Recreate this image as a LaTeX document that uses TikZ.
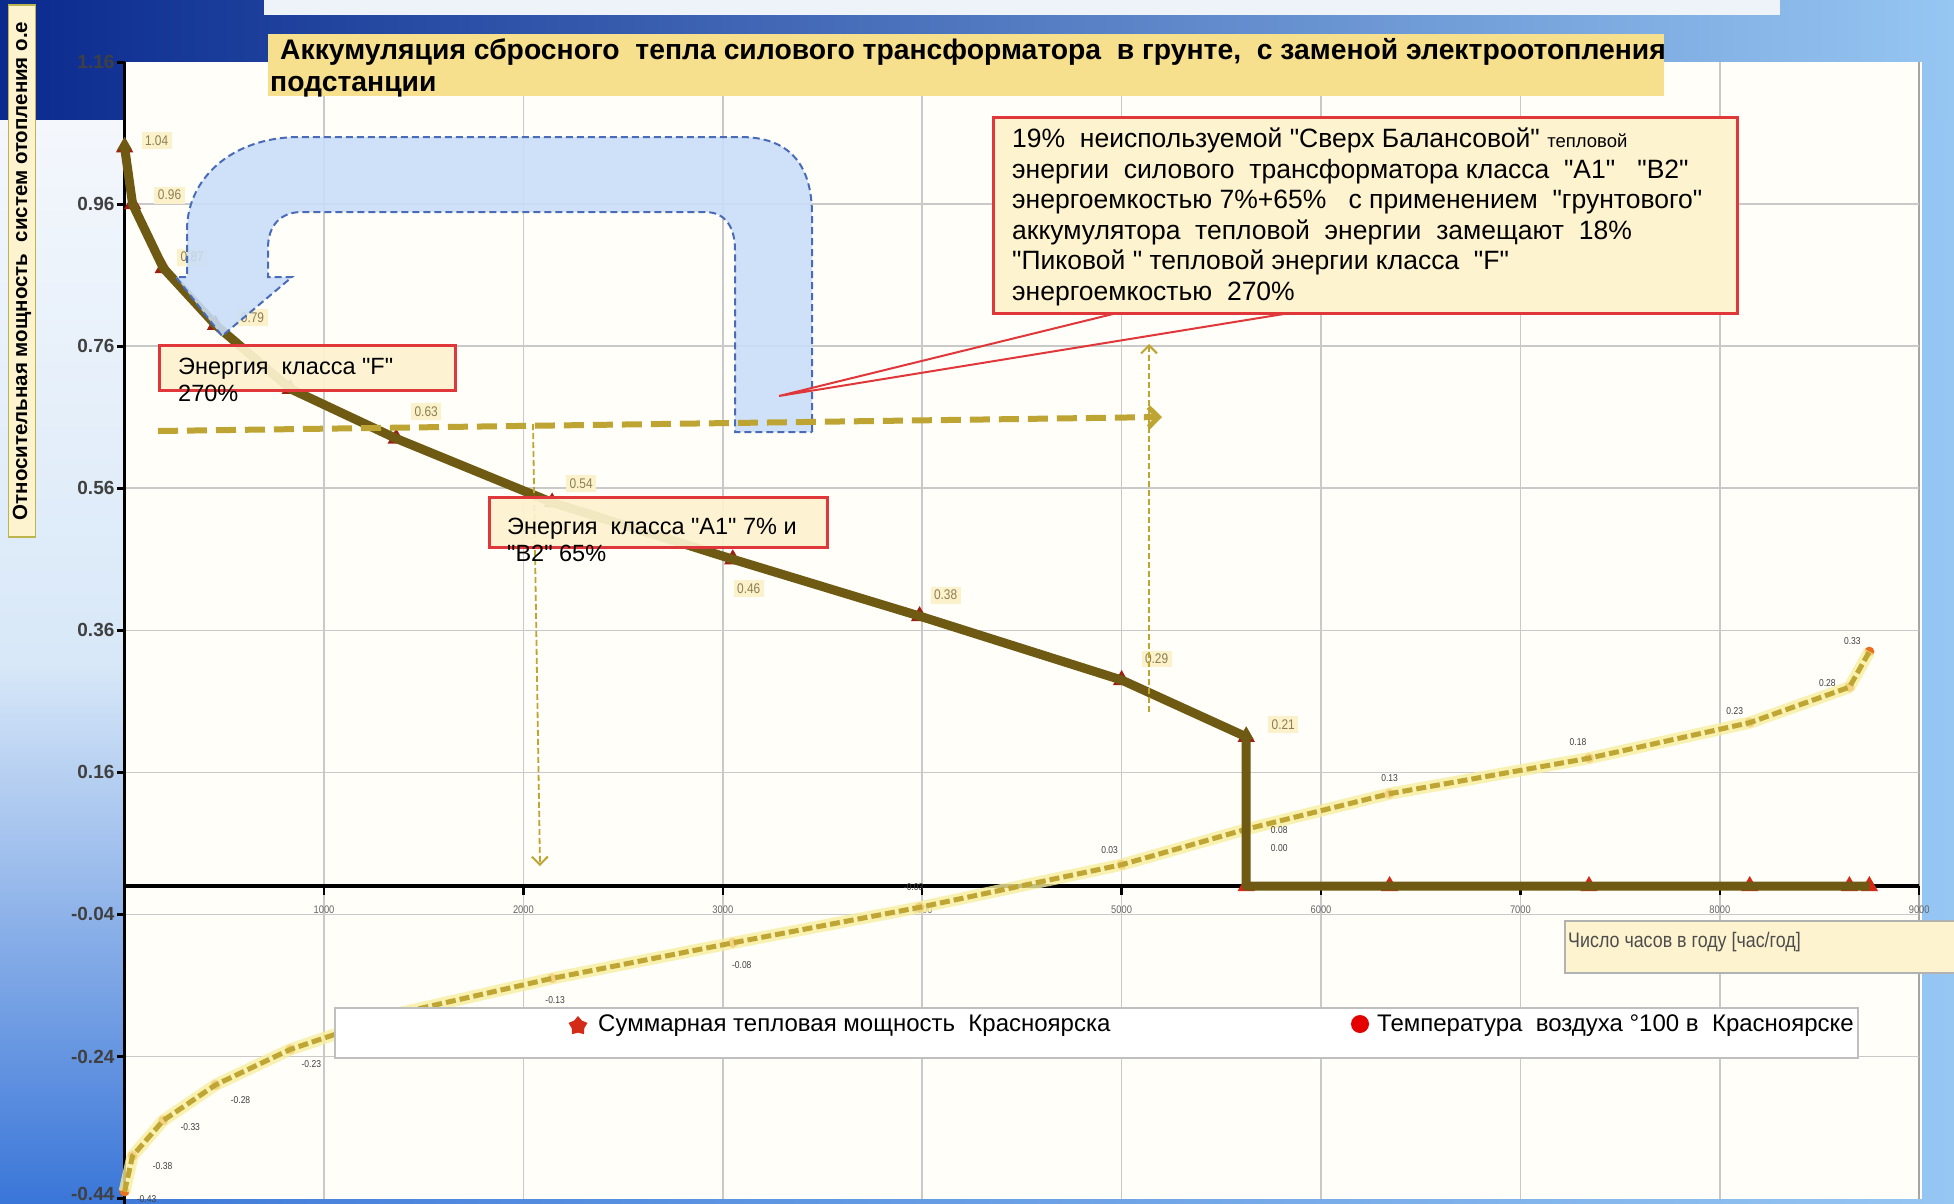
\documentclass[tikz,border=0pt]{standalone}
\usepackage{fontspec}
\setmainfont{Liberation Sans}
\newfontfamily\nar[FakeStretch=0.85]{Liberation Sans}
\usetikzlibrary{shapes.geometric,arrows.meta}
\newcommand\myfs[2]{\fontsize{#1}{#2}\selectfont}
\newcommand\qq{\textquotedbl}
\definecolor{bgdark}{HTML}{0A2A8E}
\definecolor{bglight}{HTML}{96C6F2}
\definecolor{bgmid}{HTML}{3A76D8}
\definecolor{lefttop}{HTML}{F4F7FC}
\definecolor{leftmid}{HTML}{D8E8F8}
\definecolor{stripc}{HTML}{EEF2F9}
\definecolor{panel}{HTML}{FFFEF9}
\definecolor{gridc}{HTML}{C9C9C9}
\definecolor{sone}{HTML}{6E5A12}
\definecolor{mred}{HTML}{D42A18}
\definecolor{tline}{HTML}{BFA534}
\definecolor{thalo}{HTML}{F7EE9E}
\definecolor{tmark}{HTML}{E8701E}
\definecolor{labfill}{HTML}{FBF2CC}
\definecolor{labtext}{HTML}{8E7E52}
\definecolor{boxfill}{HTML}{FDF3CF}
\definecolor{boxred}{HTML}{E0383A}
\definecolor{titlefill}{HTML}{F6E08E}
\definecolor{arrowfill}{HTML}{C9DEF9}
\definecolor{arrowedge}{HTML}{4A6CB8}
\definecolor{ydash}{HTML}{BEA533}
\begin{document}
\begin{tikzpicture}[x=1pt,y=-1pt,
  gridline/.style={draw=gridc,line width=1.6pt},
  sonel/.style={draw=sone,line width=9pt,line join=round},
  tri/.style={regular polygon,regular polygon sides=3,fill=mred,minimum size=20pt,inner sep=0pt},
  tdot/.style={circle,fill=tmark,minimum size=10pt,inner sep=0pt},
  slab/.style={fill=labfill,text=labtext,font=\nar\myfs{14}{14},inner sep=3.5pt},
  tlab/.style={text=black!75,font=\nar\myfs{10}{10},inner sep=1pt},
  ytl/.style={anchor=east,font=\bfseries\myfs{19}{19},text=black!75,inner sep=0pt},
  xtl/.style={font=\nar\myfs{11}{11},text=black!60,inner sep=0pt},
  redbox/.style={draw=boxred,line width=2.5pt,fill=boxfill,fill opacity=0.92,inner sep=0pt},
  boxtext/.style={anchor=north west,align=left,inner sep=0pt,font=\myfs{23.5}{27}},
  thinarrow/.style={draw=ydash,line width=1.8pt,dash pattern=on 6pt off 3pt,-{Straight Barb[length=8pt,width=16pt,line width=2pt]}},
  thickarrow/.style={draw=ydash,line width=6pt,dash pattern=on 20pt off 9pt,-{Straight Barb[length=10pt,width=20pt,line width=5pt]}}
]
\useasboundingbox (0,0) rectangle (1954,1203);
% ---------- background ----------
\fill[left color=bgmid,right color=bglight] (0,0) rectangle (1954,1203);
\fill[left color=bgdark,right color=bglight] (0,0) rectangle (1954,120);
\fill[top color=lefttop,bottom color=bgmid,middle color=leftmid] (0,120) rectangle (124,1203);
\fill[stripc] (264,0) rectangle (1780,15);
\fill[panel] (124.6,62) rectangle (1922,1199);

% ---------- data area ----------
\begin{scope}[shift={(124.6pt,-886pt)},x=199.4pt,y=710.3pt]
  \foreach \h in {1,...,8} \draw[gridline] (\h,-0.44) -- (\h,1.16);
  \draw[draw=black!35,line width=1.6pt] (9,-0.44) -- (9,1.16);
  \foreach \v in {0.96,0.76,0.56,0.36,0.16,-0.04,-0.24} \draw[gridline] (0,\v) -- (9,\v);
  % y axis
  \draw[line width=3.5pt] (0,-0.45) -- (0,1.16);
  \foreach \v/\t/\dy [count=\i] in {1.16/1.16/0,0.96/0.96/0,0.76/0.76/0,0.56/0.56/0,0.36/0.36/0,0.16/0.16/0,-0.04/-0.04/0,-0.24/-0.24/0,-0.44/-0.44/5}{
    \draw[line width=3pt] (0,\v) -- ++(-8pt,0);
    \node[ytl] (yt\i) at ([xshift=-10pt,yshift=\dy pt]0,\v) {\t};
  }
  % x axis
  \draw[line width=4pt] (0,0) -- (9,0);
  \foreach \h in {1,...,9}{
    \draw[line width=2.5pt] (\h,0) -- ++(0,-9pt);
    \node[xtl] (xt\h) at ([yshift=-24pt]\h,0) {\h000};
  }
  % temperature series
  \foreach \h/\v [count=\i] in {0/-0.43,0.040/-0.38,0.194/-0.33,0.456/-0.28,0.831/-0.23,1.362/-0.18,2.144/-0.13,3.050/-0.08,3.987/-0.03,5.000/0.03,5.625/0.08,6.344/0.13,7.344/0.18,8.150/0.23,8.650/0.28,8.750/0.33}
    \node[tdot] (t\i) at (\h,\v) {};
  \draw[draw=thalo,line width=12pt,opacity=0.8,line join=round] (t1.center) \foreach \i in {2,...,16}{ -- (t\i.center)};
  \draw[draw=tline,line width=5pt,dash pattern=on 10pt off 4pt,line join=round] (t1.center) \foreach \i in {2,...,16}{ -- (t\i.center)};
  \foreach \i/\dx/\dy/\t in {1/22/-8/-0.43,2/30/-10/-0.38,3/27/-7/-0.33,4/25/-15/-0.28,5/21/-15/-0.23,7/3/-22/-0.13,8/9/-22/-0.08,9/-6/20/-0.03,10/-12/15/0.03,11/33/-1/0.08,12/0/16/0.13,13/-11/16/0.18,14/-15/12/0.23,15/-22/4/0.28,16/-17/11/0.33}
    \node[tlab] (tl\i) at ([shift={(\dx pt,\dy pt)}]t\i.center) {\t};
  \node[tlab] (zl) at ([shift={(33pt,-19pt)}]t11.center) {0.00};
  % summary power series
  \foreach \h/\v [count=\i] in {0/1.04,0.040/0.96,0.194/0.87,0.456/0.79,0.831/0.70,1.362/0.63,2.144/0.54,3.050/0.46,3.987/0.38,5.000/0.29,5.625/0.21}
    \node[tri,fill=mred!75!black] (s\i) at (\h,\v) {};
  \foreach \h [count=\i] in {5.625,6.344,7.344,8.150,8.650,8.750}
    \node[tri] (z\i) at (\h,0) {};
  \draw[sonel] (s1.center) \foreach \i in {2,...,11}{ -- (s\i.center)} \foreach \i in {1,...,6}{ -- (z\i.center)};
  \node[tri,fill=sone,minimum size=17pt] (s1top) at ([yshift=2pt]s1.center) {};
  \node[tri,fill=sone,minimum size=17pt] (s11top) at ([yshift=2pt]s11.center) {};
  \foreach \i/\dx/\dy/\t in {1/32/7/1.04,2/37/9/0.96,3/29/11/0.87,4/37/7/0.79,6/30/27/0.63,7/29/19/0.54,8/16/-29/0.46,9/26/21/0.38,10/35/21/0.29,11/37/12/0.21}
    \node[slab] (sl\i) at ([shift={(\dx pt,\dy pt)}]s\i.center) {\t};
\end{scope}

% ---------- dashed arrows ----------
\coordinate (va1) at (533,424);
\coordinate (va2) at (540,866);
\draw[thinarrow] (va1) -- (va2);
\coordinate (vb1) at (1149,712);
\coordinate (vb2) at (1149,344);
\draw[thinarrow] (vb1) -- (vb2);

% ---------- blue U-turn arrow ----------
\path[draw=arrowedge,line width=2pt,dash pattern=on 7pt off 4pt,fill=arrowfill,fill opacity=0.88]
  (812,432) -- (812,215) .. controls (812,165) and (790,137) .. (740,137) -- (300,137)
  .. controls (230,137) and (187,180) .. (187,230) -- (187,277) -- (176,277) -- (222,336)
  -- (292,277) -- (268,277) -- (268,248) .. controls (268,226) and (280,212) .. (302,212)
  -- (705,212) .. controls (726,212) and (735,228) .. (735,250) -- (735,432) -- cycle;

\coordinate (ha1) at (158,431);
\coordinate (ha2) at (1162,417);
\draw[thickarrow] (ha1) -- (ha2);

% ---------- callout ----------
\coordinate (ctip) at (779,396);
\coordinate (cb1) at (1113,314);
\coordinate (cb2) at (1296,312);
\draw[draw=boxred,line width=2pt] (cb1) -- (ctip) -- (cb2);

% ---------- boxes ----------
\node[redbox,anchor=north west,minimum width=296pt,minimum height=45pt] (boxF) at (158,344) {};
\node[boxtext] (boxFt) at (178,358) {Энергия \ класса \qq F\qq\\270\%};
\node[redbox,anchor=north west,minimum width=338pt,minimum height=50pt] (boxA) at (488,496) {};
\node[boxtext] (boxAt) at (507,518) {Энергия \ класса \qq А1\qq\ 7\% и\\\qq В2\qq\ 65\%};

\node[redbox,anchor=north west,minimum width=744pt,minimum height=196pt,fill opacity=1] (note) at (992,116) {};
\node[anchor=north west,align=left,inner sep=0pt,font=\myfs{26.5}{30.5}] (notet) at (1012,128)
 {19\% \ неиспользуемой \qq Сверх Балансовой\qq\ {\myfs{18.5}{30.5}тепловой}\\
  энергии \ силового \ трансформатора класса \ \qq А1\qq\ \ \ \qq В2\qq\\
  энергоемкостью 7\%+65\% \ \ с применением \ \qq грунтового\qq\\
  аккумулятора \ тепловой \ энергии \ замещают \ 18\%\\
  \qq Пиковой \qq\ тепловой энергии класса \ \qq F\qq\\
  энергоемкостью \ 270\%};

% ---------- title ----------
\node[fill=titlefill,anchor=north west,minimum width=1396pt,minimum height=62pt,inner sep=0pt] (titlebox) at (268,34) {};
\node[anchor=north west,align=left,inner sep=0pt,font=\bfseries\myfs{28.3}{32}] (titlet) at (270,38)
 {\hspace*{10pt}Аккумуляция сбросного \ тепла силового трансформатора \ в грунте, \ с заменой электроотопления\\подстанции};

% ---------- legend ----------
\node[draw=black!25,line width=1.5pt,fill=white,anchor=north west,minimum width=1523pt,minimum height=50pt] (leg) at (334,1007) {};
\node[star,star points=5,fill=mred,minimum size=20pt,inner sep=0pt] (lm1) at (578,1026) {};
\node[anchor=west,inner sep=0pt,font=\myfs{24}{24}] (lt1) at (598,1026) {Суммарная тепловая мощность \ Красноярска};
\node[circle,fill=red!90!black,minimum size=18pt,inner sep=0pt] (lm2) at (1360,1024) {};
\node[anchor=west,inner sep=0pt,font=\myfs{24}{24}] (lt2) at (1377,1026) {Температура \ воздуха °100 в \ Красноярске};

% ---------- axis titles ----------
\node[draw=black!30,line width=1.5pt,fill=boxfill,anchor=north west,minimum width=390pt,minimum height=52pt] (xtbox) at (1564,920) {};
\node[anchor=west,inner sep=0pt,font=\nar\myfs{21}{21},text=black!70] (xtt) at (1568,942) {Число часов в году [час/год]};
\node[draw=olive!60,line width=1.5pt,fill=boxfill,rotate=90,minimum width=532pt,minimum height=27pt,inner sep=0pt,font=\bfseries\myfs{20.5}{20.5}] (ytt) at (22,271) {Относительная мощность \ систем отопления о.е};
\end{tikzpicture}
\end{document}
